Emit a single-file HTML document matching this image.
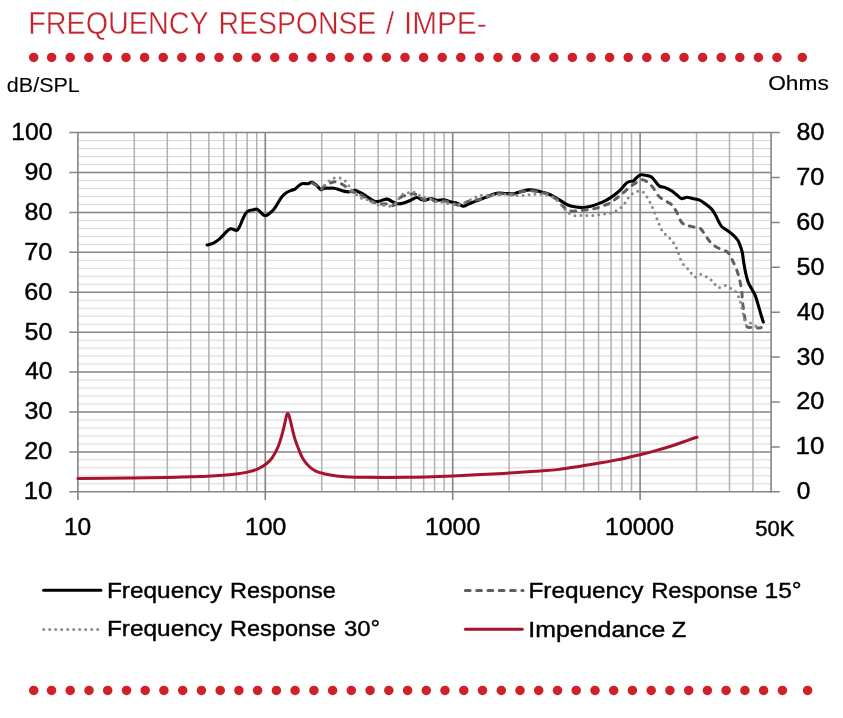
<!DOCTYPE html>
<html lang="en"><head><meta charset="utf-8"><title>Frequency Response / Impedance</title>
<style>
html,body{margin:0;padding:0;background:#fff;}
body{width:843px;height:718px;overflow:hidden;}
svg{display:block;will-change:transform;}
text{font-family:"Liberation Sans",sans-serif;}
.t{fill:#c4242d;stroke:#fff;stroke-width:0.4px;}
.k{fill:#000;stroke:#000;stroke-width:0.4px;}
</style></head><body>
<svg width="843" height="718" viewBox="0 0 843 718">
<rect width="843" height="718" fill="#fff"/>
<g class="t">
<text y="33.50" font-size="30.5"><tspan x="28.15" textLength="180.15" lengthAdjust="spacingAndGlyphs">FREQUENCY</tspan> <tspan x="218.57" textLength="157.69" lengthAdjust="spacingAndGlyphs">RESPONSE</tspan> <tspan x="385.85">/</tspan> <tspan x="403.91" textLength="82.72" lengthAdjust="spacingAndGlyphs">IMPE-</tspan></text>
</g>
<g fill="#cf2129"><circle cx="33.7" cy="57.4" r="4.75"/><circle cx="51.6" cy="57.4" r="4.75"/><circle cx="70.2" cy="57.4" r="4.75"/><circle cx="88.8" cy="57.4" r="4.75"/><circle cx="107.4" cy="57.4" r="4.75"/><circle cx="126.0" cy="57.4" r="4.75"/><circle cx="144.6" cy="57.4" r="4.75"/><circle cx="163.2" cy="57.4" r="4.75"/><circle cx="181.8" cy="57.4" r="4.75"/><circle cx="200.4" cy="57.4" r="4.75"/><circle cx="219.0" cy="57.4" r="4.75"/><circle cx="237.6" cy="57.4" r="4.75"/><circle cx="256.2" cy="57.4" r="4.75"/><circle cx="274.8" cy="57.4" r="4.75"/><circle cx="293.4" cy="57.4" r="4.75"/><circle cx="312.0" cy="57.4" r="4.75"/><circle cx="330.6" cy="57.4" r="4.75"/><circle cx="349.2" cy="57.4" r="4.75"/><circle cx="367.8" cy="57.4" r="4.75"/><circle cx="386.4" cy="57.4" r="4.75"/><circle cx="405.0" cy="57.4" r="4.75"/><circle cx="423.6" cy="57.4" r="4.75"/><circle cx="442.2" cy="57.4" r="4.75"/><circle cx="460.8" cy="57.4" r="4.75"/><circle cx="479.4" cy="57.4" r="4.75"/><circle cx="498.0" cy="57.4" r="4.75"/><circle cx="516.6" cy="57.4" r="4.75"/><circle cx="535.2" cy="57.4" r="4.75"/><circle cx="553.8" cy="57.4" r="4.75"/><circle cx="572.4" cy="57.4" r="4.75"/><circle cx="591.0" cy="57.4" r="4.75"/><circle cx="609.6" cy="57.4" r="4.75"/><circle cx="628.2" cy="57.4" r="4.75"/><circle cx="646.8" cy="57.4" r="4.75"/><circle cx="665.4" cy="57.4" r="4.75"/><circle cx="684.0" cy="57.4" r="4.75"/><circle cx="702.6" cy="57.4" r="4.75"/><circle cx="721.2" cy="57.4" r="4.75"/><circle cx="739.8" cy="57.4" r="4.75"/><circle cx="758.4" cy="57.4" r="4.75"/><circle cx="777.0" cy="57.4" r="4.75"/><circle cx="802.3" cy="57.4" r="4.75"/></g>
<g fill="#cf2129"><circle cx="33.7" cy="690.4" r="4.75"/><circle cx="51.5" cy="690.4" r="4.75"/><circle cx="70.2" cy="690.4" r="4.75"/><circle cx="89.0" cy="690.4" r="4.75"/><circle cx="107.7" cy="690.4" r="4.75"/><circle cx="126.5" cy="690.4" r="4.75"/><circle cx="145.2" cy="690.4" r="4.75"/><circle cx="163.9" cy="690.4" r="4.75"/><circle cx="182.7" cy="690.4" r="4.75"/><circle cx="201.4" cy="690.4" r="4.75"/><circle cx="220.2" cy="690.4" r="4.75"/><circle cx="238.9" cy="690.4" r="4.75"/><circle cx="257.6" cy="690.4" r="4.75"/><circle cx="276.4" cy="690.4" r="4.75"/><circle cx="295.1" cy="690.4" r="4.75"/><circle cx="313.9" cy="690.4" r="4.75"/><circle cx="332.6" cy="690.4" r="4.75"/><circle cx="351.3" cy="690.4" r="4.75"/><circle cx="370.1" cy="690.4" r="4.75"/><circle cx="388.8" cy="690.4" r="4.75"/><circle cx="407.6" cy="690.4" r="4.75"/><circle cx="426.3" cy="690.4" r="4.75"/><circle cx="445.0" cy="690.4" r="4.75"/><circle cx="463.8" cy="690.4" r="4.75"/><circle cx="482.5" cy="690.4" r="4.75"/><circle cx="501.3" cy="690.4" r="4.75"/><circle cx="520.0" cy="690.4" r="4.75"/><circle cx="538.7" cy="690.4" r="4.75"/><circle cx="557.5" cy="690.4" r="4.75"/><circle cx="576.2" cy="690.4" r="4.75"/><circle cx="595.0" cy="690.4" r="4.75"/><circle cx="613.7" cy="690.4" r="4.75"/><circle cx="632.4" cy="690.4" r="4.75"/><circle cx="651.2" cy="690.4" r="4.75"/><circle cx="669.9" cy="690.4" r="4.75"/><circle cx="688.7" cy="690.4" r="4.75"/><circle cx="707.4" cy="690.4" r="4.75"/><circle cx="726.1" cy="690.4" r="4.75"/><circle cx="744.9" cy="690.4" r="4.75"/><circle cx="763.6" cy="690.4" r="4.75"/><circle cx="782.4" cy="690.4" r="4.75"/><circle cx="807.6" cy="690.4" r="4.75"/></g>
<path d="M77.9 140.58H771.1M77.9 148.56H771.1M77.9 156.55H771.1M77.9 164.53H771.1M77.9 180.49H771.1M77.9 188.48H771.1M77.9 196.46H771.1M77.9 204.44H771.1M77.9 220.40H771.1M77.9 228.39H771.1M77.9 236.37H771.1M77.9 244.35H771.1M77.9 260.32H771.1M77.9 268.30H771.1M77.9 276.28H771.1M77.9 284.26H771.1M77.9 300.23H771.1M77.9 308.21H771.1M77.9 316.19H771.1M77.9 324.17H771.1M77.9 340.14H771.1M77.9 348.12H771.1M77.9 356.10H771.1M77.9 364.08H771.1M77.9 380.05H771.1M77.9 388.03H771.1M77.9 396.01H771.1M77.9 404.00H771.1M77.9 419.96H771.1M77.9 427.94H771.1M77.9 435.92H771.1M77.9 443.91H771.1M77.9 459.87H771.1M77.9 467.85H771.1M77.9 475.84H771.1M77.9 483.82H771.1" stroke="#d6d6d6" stroke-width="1" fill="none"/>
<path d="M134.31 132.6V491.8M167.31 132.6V491.8M190.73 132.6V491.8M208.89 132.6V491.8M223.73 132.6V491.8M236.27 132.6V491.8M247.14 132.6V491.8M256.73 132.6V491.8M321.72 132.6V491.8M354.72 132.6V491.8M378.13 132.6V491.8M396.29 132.6V491.8M411.13 132.6V491.8M423.68 132.6V491.8M434.55 132.6V491.8M444.13 132.6V491.8M509.12 132.6V491.8M542.12 132.6V491.8M565.54 132.6V491.8M583.70 132.6V491.8M598.54 132.6V491.8M611.08 132.6V491.8M621.95 132.6V491.8M631.54 132.6V491.8M696.52 132.6V491.8M729.52 132.6V491.8M752.94 132.6V491.8" stroke="#b0b0b0" stroke-width="1.5" fill="none"/>
<path d="M69.3 132.60H771.1M69.3 172.51H771.1M69.3 212.42H771.1M69.3 252.33H771.1M69.3 292.24H771.1M69.3 332.16H771.1M69.3 372.07H771.1M69.3 411.98H771.1M69.3 451.89H771.1M69.3 491.80H771.1M771.1 132.60H779.8M771.1 177.50H779.8M771.1 222.40H779.8M771.1 267.30H779.8M771.1 312.20H779.8M771.1 357.10H779.8M771.1 402.00H779.8M771.1 446.90H779.8M771.1 491.80H779.8" stroke="#858585" stroke-width="1.5" fill="none"/>
<path d="M77.90 132.6V500.0M265.30 132.6V500.0M452.71 132.6V500.0M640.11 132.6V500.0M771.10 132.6V492.4" stroke="#848484" stroke-width="1.6" fill="none"/>
<path d="M207.1 245.0C208.1 244.7 211.0 244.2 213.0 243.3C215.0 242.4 217.2 240.9 219.0 239.4C220.8 237.9 222.1 236.2 223.7 234.6C225.3 233.0 227.2 230.7 228.5 229.7C229.8 228.7 230.0 228.6 231.4 228.7C232.8 228.8 235.4 230.7 236.8 230.3C238.2 229.9 238.7 228.2 239.7 226.3C240.7 224.5 241.7 221.4 242.7 219.2C243.7 217.0 244.7 214.7 245.7 213.3C246.7 211.9 247.5 211.4 248.6 210.9C249.7 210.4 250.9 210.4 252.2 210.1C253.5 209.8 255.1 209.0 256.3 209.1C257.5 209.2 258.2 210.0 259.3 210.9C260.4 211.8 261.8 213.7 262.9 214.5C263.9 215.3 264.6 215.8 265.6 215.7C266.6 215.6 267.5 214.9 268.8 213.9C270.1 212.9 272.1 211.3 273.5 209.7C274.9 208.1 275.7 206.6 277.1 204.4C278.5 202.2 280.3 198.7 281.9 196.7C283.5 194.7 285.0 193.6 286.6 192.5C288.2 191.4 289.9 191.0 291.3 190.4C292.7 189.8 293.7 189.9 294.9 189.2C296.1 188.5 297.1 187.0 298.3 186.1C299.5 185.2 300.3 184.1 301.9 183.7C303.5 183.3 306.1 183.9 307.8 183.7C309.5 183.5 310.5 182.1 311.9 182.3C313.3 182.5 314.6 183.7 316.1 184.9C317.6 186.1 319.4 189.1 320.8 189.7C322.2 190.2 323.0 188.4 324.4 188.2C325.8 187.9 327.5 188.2 329.1 188.2C330.7 188.2 332.3 188.0 333.9 188.2C335.5 188.4 337.0 188.9 338.6 189.4C340.2 189.9 341.6 190.7 343.4 191.1C345.2 191.5 347.4 192.0 349.3 191.8C351.2 191.7 353.0 190.2 354.6 190.2C356.2 190.2 357.1 191.2 358.8 192.0C360.5 192.8 362.7 193.8 364.7 195.0C366.7 196.2 368.9 198.0 370.7 199.1C372.5 200.2 373.8 201.2 375.4 201.5C377.0 201.8 378.2 201.3 380.2 200.9C382.1 200.5 385.0 198.9 387.1 199.1C389.2 199.3 391.2 201.2 393.0 202.0C394.8 202.8 396.0 203.6 397.8 203.8C399.6 204.0 401.5 203.6 403.7 203.0C405.9 202.4 408.6 201.1 410.8 200.2C413.0 199.3 415.0 197.6 416.8 197.5C418.6 197.4 420.1 199.2 421.5 199.7C422.9 200.1 423.5 200.4 425.1 200.2C426.7 200.0 429.0 198.5 431.0 198.5C433.0 198.5 434.7 200.0 436.9 200.2C439.1 200.4 441.7 199.6 444.1 199.9C446.5 200.2 449.0 201.4 451.2 202.0C453.4 202.6 455.1 202.5 457.1 203.2C459.1 203.9 461.2 206.0 463.0 206.2C464.8 206.4 465.8 205.2 467.8 204.4C469.8 203.6 472.2 202.5 474.9 201.4C477.6 200.3 481.4 199.0 484.2 197.9C486.9 196.8 489.0 195.7 491.4 194.9C493.8 194.1 496.1 193.3 498.5 193.1C500.9 192.9 503.0 193.4 505.6 193.5C508.2 193.6 511.3 194.0 513.9 193.7C516.5 193.3 518.4 192.0 521.0 191.4C523.6 190.8 527.1 190.1 529.3 189.9C531.5 189.7 532.1 189.9 534.1 190.2C536.1 190.5 539.0 191.3 541.2 191.9C543.4 192.5 545.1 192.8 547.1 193.5C549.1 194.2 551.0 195.1 553.0 196.1C555.0 197.1 557.0 198.5 559.0 199.7C561.0 200.9 562.8 202.2 564.7 203.3C566.7 204.4 568.5 205.3 570.7 206.0C572.9 206.7 575.6 206.9 577.8 207.2C580.0 207.4 581.5 207.7 583.7 207.5C585.9 207.3 588.4 206.9 590.8 206.3C593.2 205.7 595.6 204.8 598.0 203.9C600.4 203.0 602.9 202.0 605.1 200.9C607.3 199.8 609.0 198.7 611.0 197.4C613.0 196.1 615.1 194.5 616.9 193.0C618.7 191.5 620.1 190.2 621.7 188.5C623.3 186.8 625.0 184.3 626.4 183.1C627.8 181.9 628.8 181.8 630.0 181.4C631.2 181.0 632.3 181.5 633.5 180.8C634.7 180.1 635.9 178.2 637.1 177.2C638.3 176.2 639.3 175.1 640.7 174.8C642.1 174.5 643.6 174.8 645.4 175.2C647.2 175.5 649.6 175.9 651.3 176.9C652.9 177.9 653.9 179.9 655.3 181.4C656.6 182.9 657.8 185.1 659.4 186.1C661.0 187.1 663.1 186.8 665.1 187.6C667.1 188.4 669.3 189.4 671.3 190.7C673.3 191.9 675.3 193.8 677.0 195.1C678.7 196.4 679.7 198.2 681.4 198.6C683.1 199.0 685.1 197.3 687.0 197.3C688.9 197.3 690.5 198.1 692.6 198.6C694.7 199.1 697.4 199.2 699.5 200.1C701.6 201.0 703.2 202.3 705.2 203.8C707.2 205.3 709.7 207.1 711.4 208.9C713.1 210.7 714.0 212.3 715.2 214.5C716.5 216.7 717.8 219.9 718.9 222.0C720.0 224.1 720.6 225.5 722.1 227.0C723.6 228.5 725.7 229.3 727.7 230.8C729.7 232.3 732.3 234.2 734.0 235.8C735.7 237.4 736.9 238.7 738.0 240.5C739.1 242.3 739.8 244.4 740.5 246.5C741.2 248.6 741.9 250.4 742.4 253.1C742.9 255.8 743.2 259.4 743.8 262.9C744.4 266.4 745.2 270.9 745.9 274.0C746.6 277.1 747.1 279.3 748.0 281.7C748.9 284.1 750.3 286.4 751.5 288.6C752.7 290.8 754.0 292.5 755.0 294.9C756.0 297.3 756.8 300.2 757.7 303.2C758.6 306.2 759.6 309.9 760.5 313.0C761.4 316.1 762.8 320.5 763.3 322.0" stroke="#000" stroke-width="3.1" stroke-linecap="round" stroke-linejoin="round" fill="none"/>
<path d="M311.9 182.9C312.6 183.3 314.6 184.3 316.1 185.4C317.6 186.5 319.4 189.6 320.8 189.7C322.2 189.8 322.8 187.0 324.4 185.9C326.0 184.8 328.5 183.8 330.3 183.1C332.1 182.4 333.3 181.6 335.1 181.7C336.9 181.8 339.2 182.9 341.0 183.7C342.8 184.5 344.2 185.4 345.8 186.7C347.4 188.0 349.0 190.5 350.5 191.4C352.0 192.3 352.8 191.7 354.6 192.3C356.4 192.9 358.5 193.6 361.2 195.0C363.9 196.4 368.3 199.6 370.7 200.9C373.1 202.2 373.8 202.2 375.4 202.7C377.0 203.2 378.4 203.9 380.2 204.1C381.9 204.3 384.1 203.6 385.9 203.8C387.6 204.1 389.1 205.5 390.7 205.6C392.3 205.7 393.6 205.9 395.4 204.4C397.2 202.9 399.4 198.2 401.4 196.7C403.4 195.2 405.3 196.0 407.3 195.5C409.3 195.0 411.4 193.7 413.2 193.7C415.0 193.7 416.2 194.5 418.0 195.5C419.8 196.5 421.7 199.1 423.9 199.7C426.1 200.3 429.0 198.8 431.0 199.1C433.0 199.4 433.6 201.1 435.8 201.4C438.0 201.7 441.5 200.9 444.1 201.1C446.7 201.3 448.8 201.9 451.2 202.6C453.6 203.2 456.3 204.8 458.3 205.0C460.3 205.2 461.2 204.5 463.0 203.8C464.8 203.2 465.9 201.9 469.0 201.1C472.1 200.3 478.2 200.0 481.9 199.1C485.6 198.2 488.6 196.4 491.4 195.5C494.2 194.6 494.8 193.9 498.5 193.7C502.2 193.5 510.1 194.6 513.9 194.3C517.6 194.0 518.0 192.6 521.0 192.0C524.0 191.4 528.3 190.7 531.7 190.8C535.1 190.9 538.4 191.9 541.2 192.5C544.0 193.1 545.9 193.3 548.3 194.3C550.7 195.3 553.4 197.1 555.4 198.5C557.4 199.9 558.5 201.1 560.0 202.7C561.5 204.3 563.1 206.7 564.7 208.0C566.3 209.3 567.5 210.3 569.5 210.8C571.5 211.3 573.8 211.2 576.6 211.0C579.4 210.8 582.9 210.2 586.1 209.8C589.3 209.4 592.4 209.2 595.6 208.4C598.8 207.6 602.5 206.1 605.1 205.1C607.7 204.1 609.0 203.7 611.0 202.5C613.0 201.3 614.9 199.6 616.9 198.0C618.9 196.4 620.9 194.9 622.9 193.2C624.9 191.5 626.8 189.5 628.8 187.9C630.8 186.3 632.7 185.0 634.7 183.7C636.7 182.4 638.8 180.3 640.7 179.9C642.6 179.5 644.3 180.1 646.3 181.3C648.3 182.5 650.4 184.4 652.5 186.9C654.6 189.4 656.7 194.0 658.8 196.3C660.9 198.6 663.0 199.3 665.1 200.7C667.2 202.1 669.4 202.7 671.3 204.5C673.2 206.3 674.6 208.5 676.3 211.4C678.0 214.3 679.7 219.7 681.4 222.0C683.1 224.3 684.3 224.4 686.4 225.2C688.5 226.0 691.6 226.5 693.9 227.0C696.2 227.5 698.3 226.9 700.2 228.3C702.1 229.7 703.6 233.0 705.3 235.3C707.0 237.6 708.4 240.0 710.3 242.0C712.2 244.0 714.3 245.9 716.8 247.3C719.2 248.7 722.9 249.5 725.0 250.6C727.1 251.7 727.9 252.1 729.2 253.8C730.5 255.5 731.4 258.0 732.7 260.8C734.0 263.6 735.8 267.4 736.9 270.5C738.0 273.6 738.8 276.2 739.6 279.6C740.4 283.0 741.2 287.2 741.7 290.7C742.2 294.2 742.0 297.0 742.4 300.5C742.8 304.0 743.3 308.4 743.8 311.6C744.3 314.9 744.7 317.6 745.2 320.0C745.7 322.4 745.9 324.9 746.6 326.2C747.3 327.5 748.2 327.5 749.4 327.6C750.6 327.7 752.2 326.8 753.6 326.9C755.0 327.0 756.4 327.9 757.7 328.0C759.0 328.1 760.6 327.7 761.2 327.6" stroke="#5f5f5f" stroke-width="3" stroke-linecap="round" stroke-dasharray="4.75 6.686" stroke-dashoffset="-0.64" fill="none"/>
<path d="M321.0 189.5C321.7 188.8 323.6 186.5 325.0 185.0C326.4 183.5 327.9 181.7 329.5 180.5C331.1 179.3 332.7 178.4 334.5 178.0C336.3 177.6 338.6 177.5 340.4 178.0C342.2 178.5 344.1 179.8 345.5 181.1C346.9 182.3 347.5 183.9 348.7 185.5C349.9 187.1 351.2 189.0 352.5 190.5C353.8 192.0 354.9 193.2 356.4 194.4C357.8 195.7 359.4 197.1 361.2 198.0C363.0 198.9 365.1 198.9 367.1 199.7C369.1 200.5 371.1 201.8 373.0 202.7C374.9 203.5 376.5 204.3 378.4 204.8C380.3 205.3 382.2 205.4 384.2 205.6C386.1 205.8 388.2 206.6 390.1 206.2C392.0 205.8 393.4 205.1 395.4 203.2C397.4 201.3 399.9 196.6 401.9 194.9C403.9 193.2 405.4 193.6 407.3 193.1C409.2 192.6 411.3 191.6 413.2 191.9C415.1 192.2 416.8 194.0 418.6 194.9C420.4 195.8 422.0 196.7 423.9 197.3C425.8 197.9 427.8 197.8 429.8 198.5C431.8 199.2 433.8 200.8 435.8 201.4C437.8 202.0 439.8 202.0 441.7 202.3C443.6 202.7 445.2 203.2 447.0 203.5C448.8 203.8 450.5 204.2 452.4 204.4C454.3 204.6 456.3 204.9 458.3 204.6C460.3 204.3 462.4 203.3 464.2 202.6C466.0 201.9 467.3 201.4 469.0 200.6C470.7 199.8 472.6 198.5 474.5 197.7C476.4 196.8 478.2 195.9 480.1 195.5C482.0 195.1 483.9 195.4 486.0 195.3C488.1 195.2 490.4 195.0 492.5 194.9C494.6 194.8 496.5 194.8 498.5 194.7C500.5 194.6 502.4 194.3 504.4 194.3C506.4 194.3 508.4 194.7 510.3 194.9C512.2 195.1 513.8 195.4 515.7 195.5C517.6 195.6 519.6 195.6 521.6 195.5C523.6 195.4 525.8 195.1 527.8 194.9C529.8 194.7 531.7 194.4 533.7 194.3C535.7 194.2 538.0 194.2 540.0 194.3C542.0 194.4 543.9 194.3 545.9 194.7C547.9 195.1 550.1 195.9 551.9 196.7C553.7 197.5 555.1 198.4 556.6 199.7C558.1 201.0 559.4 202.9 560.7 204.4C562.0 205.9 563.2 207.2 564.5 208.6C565.8 210.0 566.7 211.7 568.3 212.8C569.9 214.0 572.1 215.1 574.0 215.5C575.9 215.9 577.9 215.5 579.9 215.5C581.9 215.5 583.9 215.5 585.9 215.5C587.9 215.5 589.8 215.6 591.8 215.5C593.8 215.4 595.7 215.1 597.7 214.8C599.7 214.6 601.7 214.2 603.7 214.0C605.7 213.8 607.9 213.9 609.8 213.4C611.7 212.9 613.5 212.1 615.2 211.2C617.0 210.3 618.8 209.2 620.3 208.0C621.8 206.8 623.2 205.4 624.4 203.9C625.6 202.4 626.4 200.5 627.6 198.9C628.8 197.3 630.0 195.7 631.5 194.4C633.0 193.2 635.0 191.9 636.9 191.4C638.8 190.9 641.0 190.9 642.6 191.7C644.2 192.5 645.3 194.7 646.5 196.3C647.7 198.0 648.6 199.8 649.6 201.6C650.6 203.4 651.4 205.2 652.2 207.0C653.0 208.8 653.8 210.5 654.6 212.4C655.4 214.3 656.1 216.3 656.8 218.2C657.5 220.1 658.2 221.9 659.0 223.7C659.8 225.5 660.3 227.5 661.3 229.2C662.3 230.9 663.4 232.2 664.8 233.7C666.1 235.1 668.0 236.4 669.4 237.9C670.8 239.4 672.1 240.8 673.2 242.4C674.4 244.1 675.4 246.0 676.3 247.8C677.2 249.6 677.8 251.4 678.5 253.3C679.2 255.2 679.6 257.2 680.4 259.0C681.2 260.8 682.0 262.6 683.2 264.2C684.4 265.8 686.1 266.9 687.4 268.4C688.7 269.8 689.7 271.4 690.9 272.9C692.1 274.3 693.3 276.9 694.8 277.1C696.3 277.3 698.0 274.5 699.7 274.3C701.4 274.1 703.3 275.4 705.1 276.2C706.9 277.0 708.9 278.1 710.4 279.3C711.9 280.6 713.0 282.3 714.3 283.7C715.6 285.1 716.7 287.3 718.3 287.6C719.9 287.9 722.1 285.4 724.0 285.4C725.9 285.4 727.8 286.7 729.6 287.6C731.4 288.5 733.4 289.4 734.8 290.7C736.2 292.0 737.1 293.8 738.0 295.6C738.9 297.4 739.7 299.6 740.3 301.6C740.9 303.6 741.2 305.4 741.7 307.4C742.2 309.4 742.6 311.6 743.1 313.7C743.6 315.8 744.0 318.0 744.5 320.0C745.0 322.0 745.5 325.1 746.3 325.5C747.1 325.9 748.1 322.5 749.4 322.5C750.7 322.5 752.9 324.8 754.3 325.5C755.6 326.2 757.0 326.6 757.5 326.8" stroke="#8a8a8a" stroke-width="3" stroke-linecap="round" stroke-dasharray="0 5.959" stroke-dashoffset="0.2" fill="none"/>
<path d="M77.9 478.4C86.8 478.3 116.4 478.1 131.2 478.0C146.0 477.9 156.9 477.7 166.8 477.5C176.7 477.3 185.0 476.9 190.5 476.8C196.0 476.7 196.5 476.8 200.0 476.6C203.5 476.5 207.6 476.1 211.4 475.9C215.2 475.7 218.7 475.6 222.8 475.3C226.9 475.0 232.0 474.5 236.1 474.0C240.2 473.5 243.9 472.9 247.4 472.1C250.9 471.3 253.9 470.6 256.9 469.3C259.9 468.0 263.0 466.4 265.5 464.5C268.0 462.6 270.1 460.8 272.1 457.9C274.2 455.0 276.2 451.0 277.8 447.4C279.4 443.8 280.5 439.9 281.6 436.1C282.7 432.3 283.7 428.0 284.5 424.7C285.3 421.4 285.9 418.0 286.4 416.1C286.9 414.2 287.2 413.5 287.7 413.5C288.2 413.5 288.5 413.8 289.2 416.1C289.9 418.4 291.1 423.7 292.0 427.5C292.9 431.3 293.8 435.3 294.9 438.9C296.0 442.5 297.4 446.1 298.7 449.3C300.0 452.5 300.9 455.2 302.5 457.9C304.1 460.6 306.0 463.3 308.2 465.5C310.4 467.7 312.9 469.8 315.8 471.2C318.7 472.6 321.8 473.2 325.3 474.0C328.8 474.8 332.8 475.4 336.6 475.9C340.4 476.4 343.7 476.7 348.0 476.9C352.3 477.1 352.6 477.2 362.5 477.3C372.4 477.4 392.6 477.5 407.6 477.3C422.6 477.1 437.7 476.5 452.7 475.9C467.7 475.3 482.8 474.5 497.8 473.7C512.8 472.9 532.5 471.5 542.9 470.8C553.3 470.1 554.0 470.0 560.0 469.3C566.0 468.6 572.7 467.5 579.0 466.5C585.3 465.5 591.7 464.4 598.0 463.3C604.3 462.2 609.9 461.3 616.9 459.9C623.9 458.5 633.4 456.2 639.7 454.7C646.0 453.2 649.2 452.5 654.9 450.9C660.6 449.3 668.2 447.0 673.9 445.2C679.6 443.4 685.2 441.2 689.1 439.9C693.0 438.6 695.7 437.7 697.0 437.3" stroke="#a9122c" stroke-width="3" stroke-linecap="round" stroke-linejoin="round" fill="none"/>
<g class="k">
<text stroke-width="0.1" x="6.86" y="91.70" font-size="19.3" textLength="72.91" lengthAdjust="spacingAndGlyphs">dB/SPL</text>
<text stroke-width="0.15" x="768.20" y="89.90" font-size="20.8" textLength="60.64" lengthAdjust="spacingAndGlyphs">Ohms</text>
<text x="11.22" y="140.00" font-size="23.2" textLength="41.22" lengthAdjust="spacingAndGlyphs">100</text>
<text x="24.61" y="179.91" font-size="23.2" textLength="27.79" lengthAdjust="spacingAndGlyphs">90</text>
<text x="24.61" y="219.82" font-size="23.2" textLength="27.79" lengthAdjust="spacingAndGlyphs">80</text>
<text x="24.33" y="259.73" font-size="23.2" textLength="28.09" lengthAdjust="spacingAndGlyphs">70</text>
<text x="24.33" y="299.64" font-size="23.2" textLength="28.09" lengthAdjust="spacingAndGlyphs">60</text>
<text x="24.61" y="339.56" font-size="23.2" textLength="27.79" lengthAdjust="spacingAndGlyphs">50</text>
<text x="25.17" y="379.47" font-size="23.2" textLength="27.22" lengthAdjust="spacingAndGlyphs">40</text>
<text x="24.61" y="419.38" font-size="23.2" textLength="27.79" lengthAdjust="spacingAndGlyphs">30</text>
<text x="24.33" y="459.29" font-size="23.2" textLength="28.09" lengthAdjust="spacingAndGlyphs">20</text>
<text x="23.74" y="499.20" font-size="23.2" textLength="28.70" lengthAdjust="spacingAndGlyphs">10</text>
<text x="796.51" y="140.00" font-size="23.2" textLength="27.79" lengthAdjust="spacingAndGlyphs">80</text>
<text x="796.23" y="184.90" font-size="23.2" textLength="28.09" lengthAdjust="spacingAndGlyphs">70</text>
<text x="796.23" y="229.80" font-size="23.2" textLength="28.09" lengthAdjust="spacingAndGlyphs">60</text>
<text x="796.51" y="274.70" font-size="23.2" textLength="27.79" lengthAdjust="spacingAndGlyphs">50</text>
<text x="797.07" y="319.60" font-size="23.2" textLength="27.22" lengthAdjust="spacingAndGlyphs">40</text>
<text x="796.51" y="364.50" font-size="23.2" textLength="27.79" lengthAdjust="spacingAndGlyphs">30</text>
<text x="796.23" y="409.40" font-size="23.2" textLength="28.09" lengthAdjust="spacingAndGlyphs">20</text>
<text x="795.64" y="454.30" font-size="23.2" textLength="28.70" lengthAdjust="spacingAndGlyphs">10</text>
<text x="796.80" y="499.20" font-size="23.2" textLength="13.65" lengthAdjust="spacingAndGlyphs">0</text>
<text x="63.94" y="535.00" font-size="23.2" textLength="27.25" lengthAdjust="spacingAndGlyphs">10</text>
<text x="244.91" y="535.00" font-size="23.2" textLength="41.44" lengthAdjust="spacingAndGlyphs">100</text>
<text x="424.91" y="535.00" font-size="23.2" textLength="55.32" lengthAdjust="spacingAndGlyphs">1000</text>
<text x="605.12" y="535.00" font-size="23.2" textLength="68.85" lengthAdjust="spacingAndGlyphs">10000</text>
<text x="755.22" y="536.30" font-size="21.4" textLength="39.19" lengthAdjust="spacingAndGlyphs">50K</text>
</g>
<path d="M43.6 590.2H100.9" stroke="#000" stroke-width="3" stroke-linecap="round" fill="none"/>
<path d="M43.7 629.6H98.5" stroke="#8a8a8a" stroke-width="3" stroke-linecap="round" stroke-dasharray="0 6" fill="none"/>
<path d="M465.4 590.4H523" stroke="#5f5f5f" stroke-width="3" stroke-linecap="round" stroke-dasharray="4.7 6.6" fill="none"/>
<path d="M465.4 629.3H522.3" stroke="#a9122c" stroke-width="3" stroke-linecap="round" fill="none"/>
<g class="k">
<text y="597.60" font-size="22.7"><tspan x="106.90" textLength="115.35" lengthAdjust="spacingAndGlyphs">Frequency</tspan> <tspan x="230.07" textLength="105.83" lengthAdjust="spacingAndGlyphs">Response</tspan></text>
<text y="636.40" font-size="22.7"><tspan x="106.90" textLength="115.35" lengthAdjust="spacingAndGlyphs">Frequency</tspan> <tspan x="230.07" textLength="105.83" lengthAdjust="spacingAndGlyphs">Response</tspan> <tspan x="344.00" textLength="36.15" lengthAdjust="spacingAndGlyphs">30°</tspan></text>
<text y="597.60" font-size="22.7"><tspan x="528.41" textLength="115.04" lengthAdjust="spacingAndGlyphs">Frequency</tspan> <tspan x="651.16" textLength="106.76" lengthAdjust="spacingAndGlyphs">Response</tspan> <tspan x="764.49" textLength="37.20" lengthAdjust="spacingAndGlyphs">15°</tspan></text>
<text y="637.00" font-size="22.7"><tspan x="528.39" textLength="137.00" lengthAdjust="spacingAndGlyphs">Impendance</tspan> <tspan x="671.81" textLength="14.47" lengthAdjust="spacingAndGlyphs">Z</tspan></text>
</g>
</svg></body></html>
